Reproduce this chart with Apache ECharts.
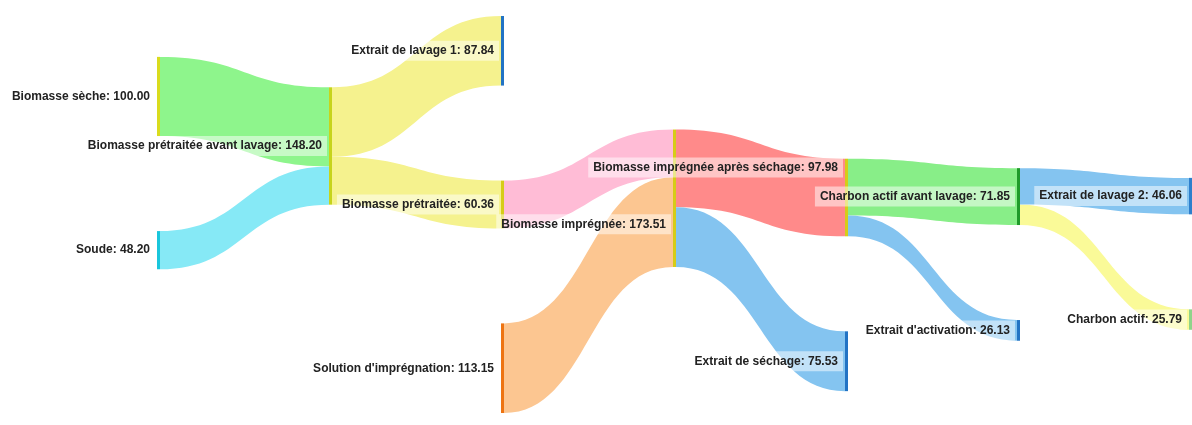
<!DOCTYPE html>
<html>
<head>
<meta charset="utf-8">
<script src="https://cdn.jsdelivr.net/npm/echarts@6/dist/echarts.min.js"></script>
<style>
  html, body { margin: 0; padding: 0; background: #ffffff; }
  #chart { width: 1192px; height: 425px; }
</style>
</head>
<body>
<div id="chart"></div>
<script>
// ---- Data ----
const nodeNames = [
  "Biomasse sèche",
  "Soude",
  "Biomasse prétraitée avant lavage",
  "Extrait de lavage 1",
  "Biomasse prétraitée",
  "Solution d'imprégnation",
  "Biomasse imprégnée",
  "Biomasse imprégnée après séchage",
  "Extrait de séchage",
  "Charbon actif avant lavage",
  "Extrait d'activation",
  "Charbon actif",
  "Extrait de lavage 2"
];
// process stage (column) of each node
const nodeStages = [0, 0, 1, 2, 2, 2, 3, 4, 4, 5, 5, 6, 6];

const linkSources = [
  "Biomasse sèche",
  "Soude",
  "Biomasse prétraitée avant lavage",
  "Biomasse prétraitée avant lavage",
  "Biomasse prétraitée",
  "Solution d'imprégnation",
  "Biomasse imprégnée",
  "Biomasse imprégnée",
  "Biomasse imprégnée après séchage",
  "Biomasse imprégnée après séchage",
  "Charbon actif avant lavage",
  "Charbon actif avant lavage"
];
const linkTargets = [
  "Biomasse prétraitée avant lavage",
  "Biomasse prétraitée avant lavage",
  "Extrait de lavage 1",
  "Biomasse prétraitée",
  "Biomasse imprégnée",
  "Biomasse imprégnée",
  "Biomasse imprégnée après séchage",
  "Extrait de séchage",
  "Charbon actif avant lavage",
  "Extrait d'activation",
  "Charbon actif",
  "Extrait de lavage 2"
];
const linkValues = [100.00, 48.20, 87.84, 60.36, 60.36, 113.15, 97.98, 75.53, 71.85, 26.13, 25.79, 46.06];

// ---- Styles ----
const nodeColors = {
  "Biomasse sèche": "#d9dc1e",
  "Soude": "#19c6dc",
  "Biomasse prétraitée avant lavage": "#c6d41c",
  "Extrait de lavage 1": "#2273c4",
  "Biomasse prétraitée": "#d6cc18",
  "Solution d'imprégnation": "#ee7412",
  "Biomasse imprégnée": "#d6cc18",
  "Biomasse imprégnée après séchage": "#d6cc18",
  "Extrait de séchage": "#2273c4",
  "Charbon actif avant lavage": "#1f9a2a",
  "Extrait d'activation": "#2273c4",
  "Charbon actif": "#8fd48a",
  "Extrait de lavage 2": "#2e7fcc"
};
// label nudges so that labels of aligned nodes do not collide
const labelNudges = {
  "Biomasse imprégnée": [0, 26],
  "Biomasse imprégnée après séchage": [0, -30]
};
const linkColors = [
  "#8ef58c", "#86e9f6", "#f5f28e", "#f5f28e", "#ffbcd6", "#fcc691",
  "#ff8a8a", "#84c4f0", "#88ee88", "#84c4f0", "#fafa98", "#84c4f0"
];

const nodes = nodeNames.map((n, i) => {
  const item = {
    name: n,
    depth: nodeStages[i],
    itemStyle: { color: nodeColors[n], borderWidth: 0 }
  };
  if (labelNudges[n]) item.label = { offset: labelNudges[n] };
  return item;
});
const links = linkSources.map((s, i) => ({
  source: s,
  target: linkTargets[i],
  value: linkValues[i],
  lineStyle: { color: linkColors[i], opacity: 1 }
}));

const chart = echarts.init(document.getElementById('chart'), null, { renderer: 'canvas' });
chart.setOption({
  backgroundColor: '#ffffff',
  animation: false,
  series: [{
    type: 'sankey',
    left: 157,
    right: 0,
    top: 16,
    bottom: 12,
    nodeWidth: 3,
    nodeGap: 95,
    layoutIterations: 1,
    draggable: false,
    emphasis: { disabled: true },
    data: nodes,
    links: links,
    lineStyle: { curveness: 0.5, opacity: 1 },
    label: {
      show: true,
      position: 'left',
      distance: 2,
      fontFamily: 'Liberation Sans, Arial, sans-serif',
      fontWeight: 'bold',
      fontSize: 12,
      lineHeight: 14,
      color: '#222222',
      backgroundColor: 'rgba(255,255,255,0.5)',
      padding: [3, 5],
      formatter: p => p.name + ': ' + Number(p.value).toFixed(2)
    }
  }]
});
</script>
</body>
</html>
